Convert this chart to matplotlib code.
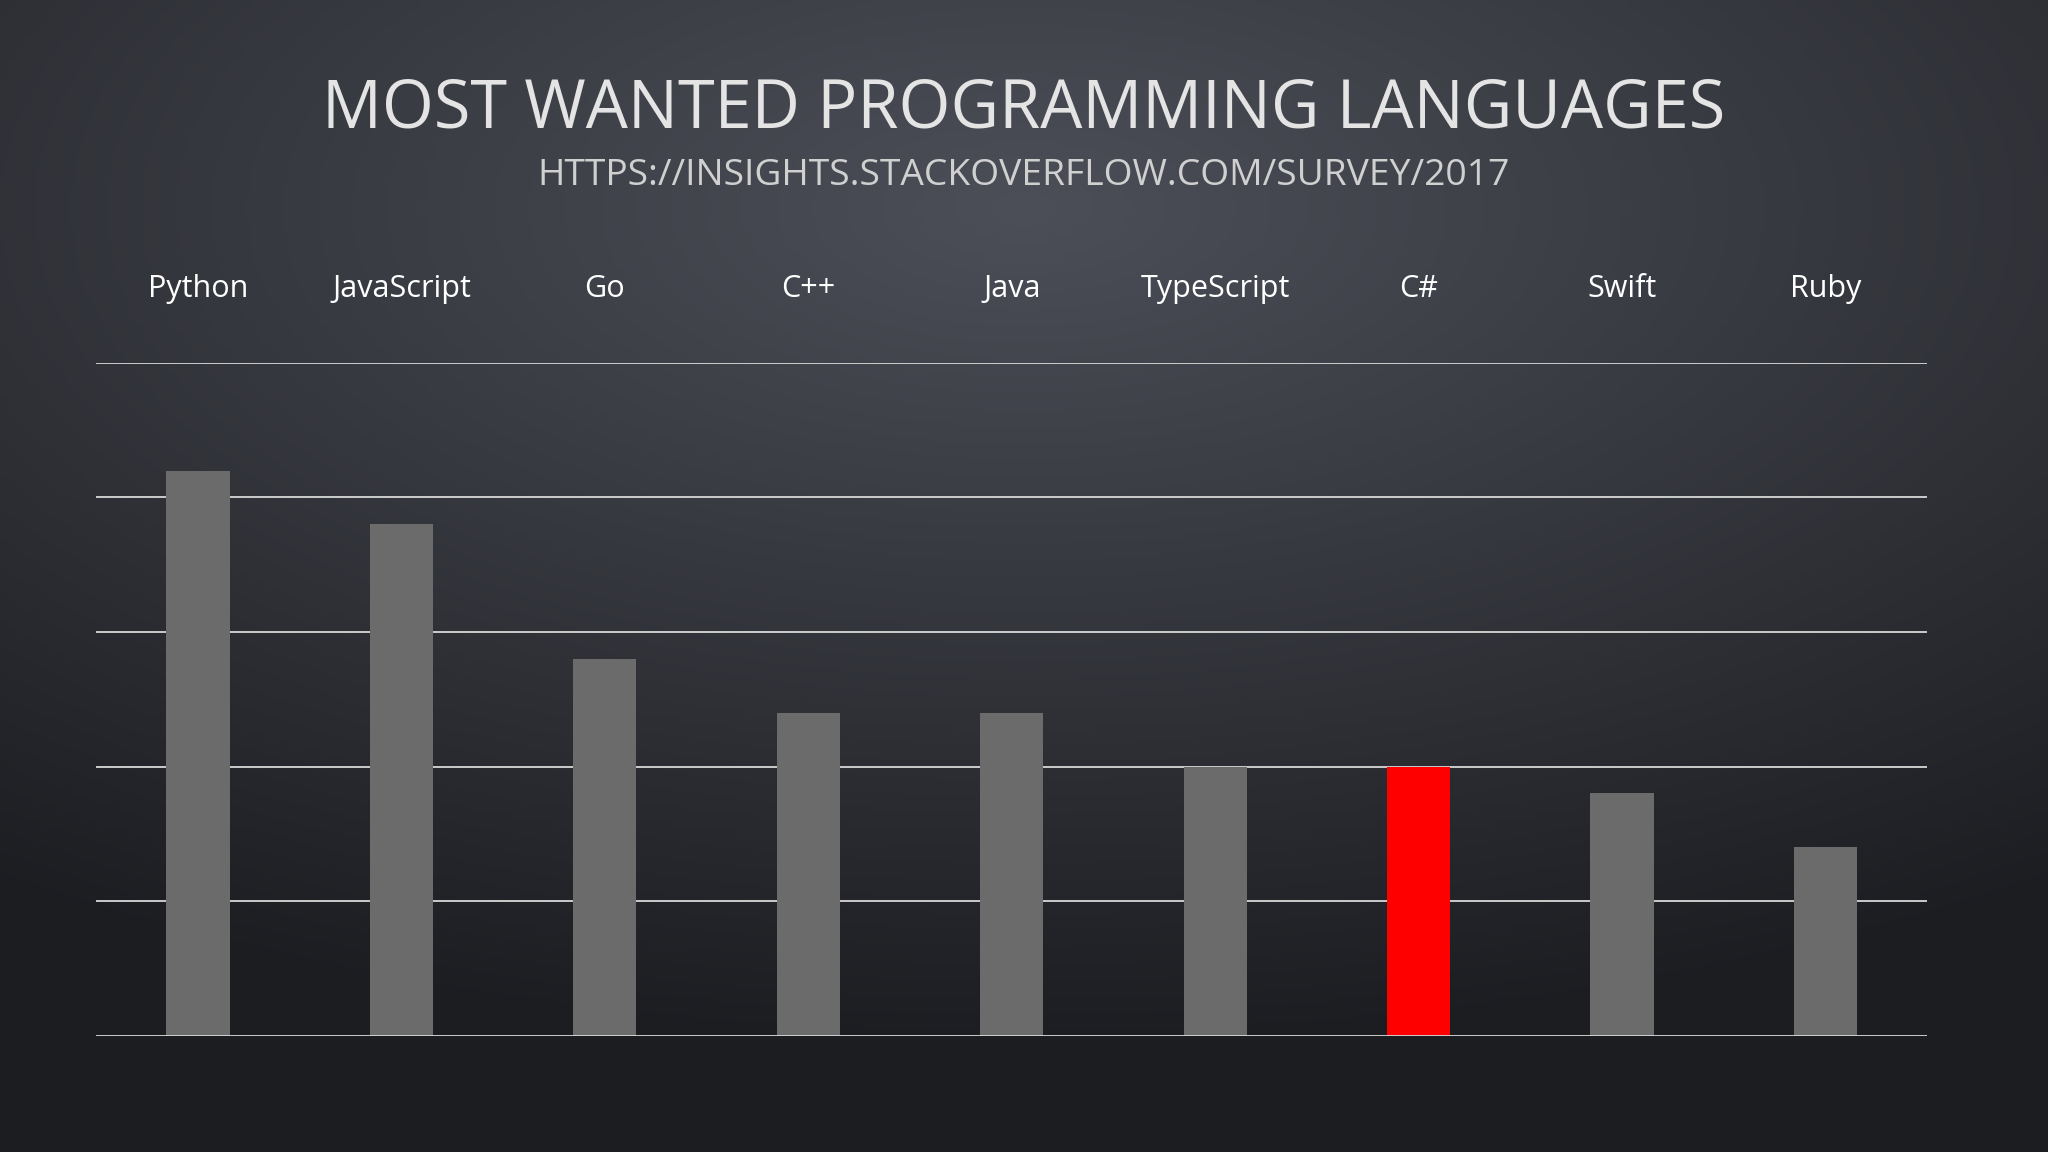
import numpy as np
import matplotlib
matplotlib.use("Agg")
import matplotlib.pyplot as plt

# Most wanted languages (Stack Overflow survey 2017)
languages = ["Python", "JavaScript", "Go", "C++", "Java", "TypeScript", "C#", "Swift", "Ruby"]
values = [21.0, 19.0, 14.0, 12.0, 12.0, 10.0, 10.0, 9.0, 7.0]
highlight = "C#"

plt.rcParams["font.family"] = ["Open Sans", "DejaVu Sans"]

fig = plt.figure(figsize=(20.48, 11.52), dpi=100)

# --- background: dark radial gradient, lighter at the top centre ---
bg = fig.add_axes([0, 0, 1, 1])
yy, xx = np.mgrid[0:1:300j, 0:1:500j]
d = np.sqrt(((xx - 0.5) * 1.1) ** 2 + ((yy - 0.18) * 1.3) ** 2)
shade = np.clip(1 - d / 0.95, 0, 1)
c0 = np.array([0x1c, 0x1d, 0x21]) / 255
c1 = np.array([0x4c, 0x4f, 0x58]) / 255
img = c0 + (c1 - c0) * shade[..., None]
bg.imshow(img, extent=[0, 1, 0, 1], origin="upper", aspect="auto")
bg.axis("off")

# --- bar chart ---
ax = fig.add_axes([0.047, 0.101, 0.894, 0.584])
ax.patch.set_alpha(0)
x = np.arange(len(languages))
colors = ["#ff0000" if l == highlight else "#6b6b6b" for l in languages]
ax.bar(x, values, width=0.31, color=colors, zorder=1)
ax.set_xlim(-0.5, len(languages) - 0.5)
ax.set_ylim(0, 25)
for gy in range(0, 26, 5):
    ax.axhline(gy, color="#d8d8d8", lw=1.3, zorder=2 if gy == 0 else 0)
ax.set_xticks([]); ax.set_yticks([])
for s in ax.spines.values():
    s.set_visible(False)

# category labels above the plot
for xi, lab in zip(x, languages):
    ax.text(xi, 1.11, lab, transform=ax.get_xaxis_transform(), ha="center",
            va="center", color="white", fontsize=22)

fig.text(0.5, 0.905, "MOST WANTED PROGRAMMING LANGUAGES", ha="center", va="center",
         color="#e4e4e4", fontsize=48)
fig.text(0.5, 0.847, "HTTPS://INSIGHTS.STACKOVERFLOW.COM/SURVEY/2017", ha="center",
         va="center", color="#d0d0d0", fontsize=26.8)

fig.savefig("out.png", dpi=100)
